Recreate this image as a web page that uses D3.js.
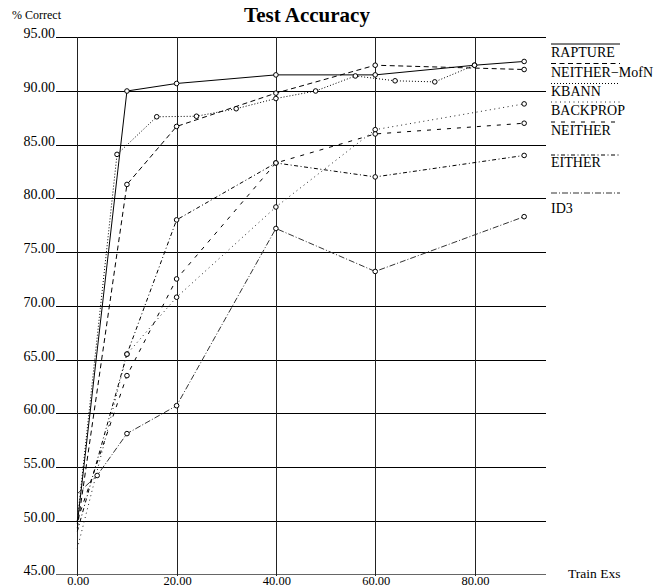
<!DOCTYPE html>
<html><head><meta charset="utf-8">
<script src="https://cdn.jsdelivr.net/npm/d3@7"></script>
<style>body{margin:0;background:#fff}svg{display:block}text{font-family:"Liberation Serif","Times New Roman",serif;fill:#000}</style>
</head><body><svg id="c" width="660" height="588"></svg>
<script>
const seriesNames = ["RAPTURE","NEITHER\u2212MofN","KBANN","BACKPROP","NEITHER","EITHER","ID3"];
const raptureX = [0,10,20,40,60,80,90];
const raptureY = [49.7,90.0,90.7,91.5,91.5,92.4,92.75];
const mofnX = [0,10,20,40,60,90];
const mofnY = [49.3,81.3,86.7,89.8,92.4,92.0];
const kbannX = [0,8,16,24,32,40,48,56,64,72,80];
const kbannY = [50.0,84.1,87.6,87.65,88.35,89.3,90.0,91.4,90.95,90.85,92.4];
const backpropX = [0,10,20,40,60,90];
const backpropY = [47.4,65.5,70.8,79.2,86.4,88.8];
const neitherX = [0,10,20,40,60,90];
const neitherY = [50.0,63.5,72.5,83.3,86.0,87.0];
const eitherX = [0,10,20,40,60,90];
const eitherY = [49.0,65.5,78.0,83.3,82.0,84.0];
const id3X = [0,4,10,20,40,60,90];
const id3Y = [52.5,54.2,58.1,60.7,77.2,73.2,78.3];
const yTicks = [45,50,55,60,65,70,75,80,85,90,95];
const xTicks = [0,20,40,60,80];

const svg = d3.select("#c");
const x = d3.scaleLinear().domain([0,80]).range([77.3,474.5]);
const y = d3.scaleLinear().domain([45,95]).range([574.3,37.3]);

const styles = [
  {dash:null, color:"#000"},
  {dash:"5,3.5", color:"#000"},
  {dash:"1,2", color:"#000"},
  {dash:"1,3.5", color:"#222"},
  {dash:"4,6", color:"#000"},
  {dash:"4,2.5,1,2.5", color:"#000"},
  {dash:"6,2,1,2", color:"#333"}
];
const data = [
  [raptureX,raptureY],[mofnX,mofnY],[kbannX,kbannY],[backpropX,backpropY],
  [neitherX,neitherY],[eitherX,eitherY],[id3X,id3Y]
].map(([xs,ys]) => xs.map((v,i)=>({x:v,y:ys[i]})));

// grid
const g = svg.append("g").attr("shape-rendering","crispEdges");
g.selectAll(".h").data(yTicks).enter().append("line")
  .attr("x1",56).attr("x2",546).attr("y1",d=>Math.round(y(d))+0.5).attr("y2",d=>Math.round(y(d))+0.5)
  .attr("stroke",d=>d===45?"#666":"#000").attr("stroke-width",1);
g.selectAll(".v").data(xTicks).enter().append("line")
  .attr("y1",37).attr("y2",576).attr("x1",d=>Math.round(x(d))+0.5).attr("x2",d=>Math.round(x(d))+0.5)
  .attr("stroke","#222").attr("stroke-width",1);

// axis labels
svg.selectAll(".yl").data(yTicks).enter().append("text")
  .attr("x",55).attr("y",d=>y(d)+1).attr("text-anchor","end").attr("font-size",14)
  .text(d=>d3.format(".2f")(d));
svg.selectAll(".xl").data(xTicks).enter().append("text")
  .attr("x",d=>x(d)+1).attr("y",584.5).attr("text-anchor","middle").attr("font-size",12.5)
  .text(d=>d3.format(".2f")(d));
svg.append("text").attr("x",12).attr("y",19).attr("font-size",12).text("% Correct");
svg.append("text").attr("x",307).attr("y",22).attr("text-anchor","middle").attr("font-size",21).attr("font-weight","bold").text("Test Accuracy");
svg.append("text").attr("x",568).attr("y",578).attr("font-size",13.5).text("Train Exs");

// series
const line = d3.line().x(d=>x(d.x)).y(d=>y(d.y));
data.forEach((pts,i)=>{
  svg.append("path").datum(pts).attr("d",line).attr("fill","none")
    .attr("stroke",styles[i].color).attr("stroke-width",1)
    .attr("stroke-dasharray",styles[i].dash);
  svg.selectAll(".m"+i).data(pts.filter(p=>p.x>0)).enter().append("circle")
    .attr("cx",p=>x(p.x)).attr("cy",p=>y(p.y)).attr("r",2.3)
    .attr("fill","#fff").attr("stroke","#000").attr("stroke-width",1);
});

// legend
const legY = [44,63.5,83.5,102,122,155,193];
const legT = [56.7,76.5,96,115,134.5,167,213];
seriesNames.forEach((n,i)=>{
  svg.append("line").attr("x1",551).attr("x2",620).attr("y1",legY[i]).attr("y2",legY[i])
    .attr("stroke",styles[i].color).attr("stroke-width",1).attr("stroke-dasharray",styles[i].dash);
  svg.append("text").attr("x",551).attr("y",legT[i]).attr("font-size",14).text(n);
});
</script></body></html>
